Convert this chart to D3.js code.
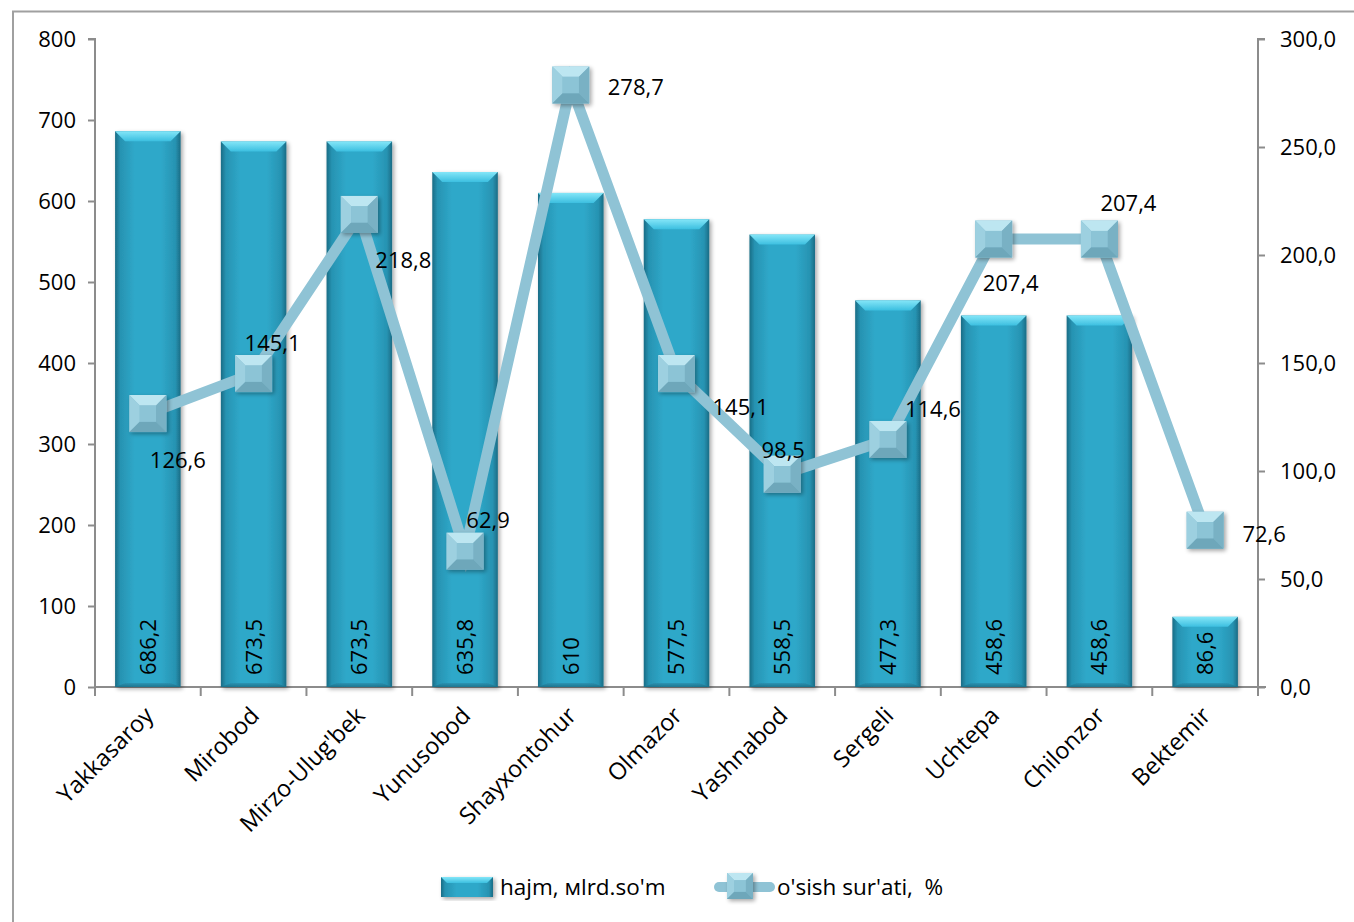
<!DOCTYPE html>
<html><head><meta charset="utf-8">
<script src="https://cdn.jsdelivr.net/npm/d3@7/dist/d3.min.js"></script>
<style>
html,body{margin:0;padding:0;background:#fff;}
svg{display:block;font-family:"Open Sans","Noto Sans",sans-serif;}
text{white-space:pre;}
</style></head>
<body>
<svg id="chart" width="1354" height="922"></svg>
<script>
const categories = ["Yakkasaroy","Mirobod","Mirzo-Ulug'bek","Yunusobod","Shayxontohur","Olmazor","Yashnabod","Sergeli","Uchtepa","Chilonzor","Bektemir"];
const volumeValues = [686.2, 673.5, 673.5, 635.8, 610, 577.5, 558.5, 477.3, 458.6, 458.6, 86.6];
const growthValues = [126.6, 145.1, 218.8, 62.9, 278.7, 145.1, 98.5, 114.6, 207.4, 207.4, 72.6];
const leftTicks = [0,100,200,300,400,500,600,700,800];
const rightTicks = [0,50,100,150,200,250,300];
const seriesNames = ["hajm, мlrd.so'm", "o'sish sur'ati,  %"];
// label placement offsets (style, not data)
const growthLabelOffsets = [[30,47],[19,-31],[44,46],[23,-31],[65,2],[64,33],[1,-24],[45,-30],[17,44],[29,-36],[59,4]];

const svg = d3.select("#chart");
const m = {left:95, right:1258, top:39, bottom:687};
const fmt = v => d3.format(".1f")(v).replace(".", ",");
const fmtBar = v => String(v).replace(".", ",");

// frame (left & top borders)
svg.append("path").attr("d","M13,922 V11.5 H1354").attr("fill","none").attr("stroke","#a0a0a0").attr("stroke-width",2);

const x = d3.scaleBand().domain(categories).range([m.left,m.right]).paddingInner(0.38).paddingOuter(0.19);
const xb = d3.scaleBand().domain(categories).range([m.left,m.right]);
const yL = d3.scaleLinear().domain([0,800]).range([m.bottom,m.top]);
const yR = d3.scaleLinear().domain([0,300]).range([m.bottom,m.top]);

const defs = svg.append("defs");
const g1 = defs.append("linearGradient").attr("id","barBody").attr("x1","0").attr("x2","1").attr("y1","0").attr("y2","0");
[[0,"#1a6c85"],[0.08,"#2793b2"],[0.3,"#2fa8c9"],[0.7,"#2fa8c9"],[0.92,"#2793b2"],[1,"#1a6c85"]].forEach(s=>g1.append("stop").attr("offset",s[0]).attr("stop-color",s[1]));
const g2 = defs.append("linearGradient").attr("id","barTop").attr("x1","0").attr("x2","0").attr("y1","0").attr("y2","1");
[[0,"#84e6f8"],[1,"#3cbfe0"]].forEach(s=>g2.append("stop").attr("offset",s[0]).attr("stop-color",s[1]));
const g3 = defs.append("linearGradient").attr("id","barBot").attr("x1","0").attr("x2","0").attr("y1","0").attr("y2","1");
[[0,"#2a8fae"],[1,"#1a6a82"]].forEach(s=>g3.append("stop").attr("offset",s[0]).attr("stop-color",s[1]));
const sh = defs.append("filter").attr("id","shadow").attr("x","-20%").attr("y","-20%").attr("width","140%").attr("height","140%");
sh.append("feGaussianBlur").attr("in","SourceAlpha").attr("stdDeviation",2);
sh.append("feOffset").attr("dx",1.5).attr("dy",2).attr("result","b");
sh.append("feComponentTransfer").append("feFuncA").attr("type","linear").attr("slope",0.35);
const mg = sh.append("feMerge"); mg.append("feMergeNode"); mg.append("feMergeNode").attr("in","SourceGraphic");

// axes
const axL = svg.append("g").attr("transform",`translate(${m.left},0)`)
  .call(d3.axisLeft(yL).tickValues(leftTicks).tickSize(7).tickPadding(12).tickFormat(d=>d));
const axR = svg.append("g").attr("transform",`translate(${m.right},0)`)
  .call(d3.axisRight(yR).tickValues(rightTicks).tickSize(7).tickPadding(15).tickFormat(fmt));
[axL,axR].forEach(a=>{
  a.select(".domain").attr("stroke","#8c8c8c").attr("stroke-width",2).attr("d", a===axL ? `M-7,${m.top}H0V${m.bottom}` : `M7,${m.top}H0V${m.bottom}`);
  a.selectAll(".tick line").attr("stroke","#8c8c8c").attr("stroke-width",2);
  a.selectAll("text").attr("font-size",22).attr("fill","#000").attr("font-family","Open Sans");
});
// x axis
const axB = svg.append("g").attr("transform",`translate(0,${m.bottom})`);
axB.append("line").attr("x1",m.left).attr("x2",m.right+8).attr("y1",0).attr("y2",0).attr("stroke","#8c8c8c").attr("stroke-width",2);
const bounds = categories.map(c=>xb(c)).concat([m.right]);
axB.selectAll("line.tk").data(bounds).join("line").attr("class","tk")
  .attr("x1",d=>d).attr("x2",d=>d).attr("y1",0).attr("y2",9).attr("stroke","#8c8c8c").attr("stroke-width",2);
axB.selectAll("text").data(categories).join("text")
  .attr("transform",d=>`translate(${xb(d)+xb.bandwidth()/2+7},30) rotate(-45)`)
  .attr("text-anchor","end").attr("font-size",23.5).attr("fill","#000").text(d=>d);

// bars
const bw = x.bandwidth();
const bars = svg.append("g").selectAll("g").data(categories).join("g").attr("filter","url(#shadow)");
bars.each(function(c,i){
  const g = d3.select(this);
  const x0 = x(c), y0 = yL(volumeValues[i]), h = m.bottom - y0, b = Math.min(10, h/3);
  g.append("rect").attr("x",x0).attr("y",y0).attr("width",bw).attr("height",h).attr("fill","url(#barBody)");
  g.append("path").attr("d",`M${x0},${y0}H${x0+bw}L${x0+bw-b},${y0+b}H${x0+b}Z`).attr("fill","url(#barTop)");
  g.append("path").attr("d",`M${x0},${m.bottom}H${x0+bw}L${x0+bw-b},${m.bottom-4}H${x0+b}Z`).attr("fill","url(#barBot)").attr("opacity",0.8);
});
svg.append("g").selectAll("text").data(categories).join("text")
  .attr("transform",(c)=>`translate(${x(c)+bw/2},${m.bottom-12}) rotate(-90)`)
  .attr("dy","0.36em").attr("font-size",22).attr("fill","#000").text((c,i)=>fmtBar(volumeValues[i]));

// line
const cx = c => xb(c)+xb.bandwidth()/2;
const line = d3.line().x((d,i)=>cx(categories[i])).y(d=>yR(d));
svg.append("path").datum(growthValues).attr("d",line).attr("fill","none").attr("stroke","#8fc3d5").attr("stroke-width",11).attr("stroke-linejoin","miter");

function marker(g, px, py, s){
  const h = s/2, b = s*0.28;
  const mg = g.append("g").attr("filter","url(#shadow)");
  mg.append("rect").attr("x",px-h).attr("y",py-h).attr("width",s).attr("height",s).attr("fill","#86bfd2");
  mg.append("path").attr("d",`M${px-h},${py-h}H${px+h}L${px+h-b},${py-h+b}H${px-h+b}Z`).attr("fill","#bde6f1");
  mg.append("path").attr("d",`M${px-h},${py-h}L${px-h+b},${py-h+b}V${py+h-b}L${px-h},${py+h}Z`).attr("fill","#9dd0e0");
  mg.append("path").attr("d",`M${px+h},${py-h}L${px+h-b},${py-h+b}V${py+h-b}L${px+h},${py+h}Z`).attr("fill","#79b1c4");
  mg.append("path").attr("d",`M${px-h},${py+h}L${px-h+b},${py+h-b}H${px+h-b}L${px+h},${py+h}Z`).attr("fill","#6ea7ba");
  mg.append("rect").attr("x",px-h+b).attr("y",py-h+b).attr("width",s-2*b).attr("height",s-2*b).attr("fill","#8cc4d6");
}
const mk = svg.append("g");
growthValues.forEach((v,i)=>marker(mk, cx(categories[i]), yR(v), 37));
svg.append("g").selectAll("text").data(growthValues).join("text")
  .attr("x",(d,i)=>cx(categories[i])+growthLabelOffsets[i][0])
  .attr("y",(d,i)=>yR(d)+growthLabelOffsets[i][1])
  .attr("dy","0.36em").attr("text-anchor","middle").attr("font-size",22).attr("fill","#000").text(fmt);

// legend
const lg = svg.append("g");
lg.append("g").attr("filter","url(#shadow)").call(g=>{
  g.append("rect").attr("x",441).attr("y",877).attr("width",52).attr("height",20).attr("fill","url(#barBody)");
  g.append("path").attr("d","M441,877H493L487,883H447Z").attr("fill","url(#barTop)");
});
lg.append("text").attr("x",500).attr("y",887).attr("dy","0.36em").attr("font-size",22.5).text(seriesNames[0]);
lg.append("line").attr("x1",719).attr("x2",770).attr("y1",887).attr("y2",887).attr("stroke","#8fc3d5").attr("stroke-width",10).attr("stroke-linecap","round");
marker(lg, 740, 886, 26);
lg.append("text").attr("x",777).attr("y",887).attr("dy","0.36em").attr("font-size",22.5).text(seriesNames[1]);
</script>
</body></html>
